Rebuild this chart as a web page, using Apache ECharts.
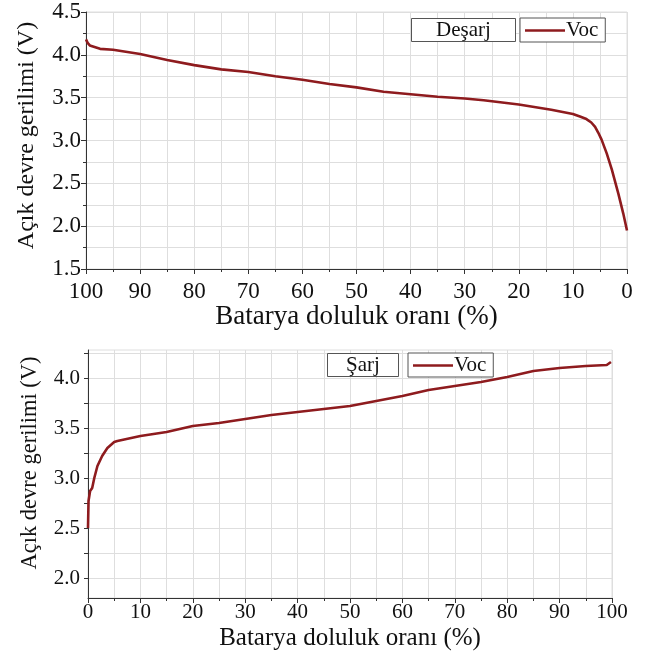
<!DOCTYPE html>
<html>
<head>
<meta charset="utf-8">
<script src="https://cdn.jsdelivr.net/npm/echarts@6/dist/echarts.min.js"></script>
<style>
html,body{margin:0;padding:0;background:#fff;}
#c{width:650px;height:663px;}
</style>
</head>
<body>
<div id="c"></div>
<script>
// Discharge (Deşarj): state of charge (%) and open-circuit voltage (V)
const dischargeSoc = [100, 99.7, 99.3, 97.4, 95, 90, 85, 80, 75, 70, 65, 60, 55, 50, 45, 40, 35, 30, 26.5, 20, 14, 10, 8.7, 7.5, 6.6, 5.9, 5.3, 4.7, 3.75, 2.8, 1.6, 0.7, 0];
const dischargeVoc = [4.18, 4.14, 4.11, 4.07, 4.06, 4.01, 3.94, 3.88, 3.83, 3.80, 3.75, 3.71, 3.66, 3.62, 3.57, 3.54, 3.51, 3.49, 3.47, 3.42, 3.36, 3.31, 3.28, 3.25, 3.21, 3.16, 3.09, 3.01, 2.85, 2.66, 2.38, 2.15, 1.95];
// Charge (Şarj)
const chargeSoc = [0, 0.1, 0.4, 0.8, 1.2, 1.8, 2.7, 3.7, 5.0, 5.6, 10, 15, 20, 25, 30, 35, 40, 45, 50, 55, 60, 65, 70, 75, 80, 85, 90, 95, 99, 99.8];
const chargeVoc = [2.50, 2.77, 2.87, 2.90, 3.00, 3.12, 3.22, 3.30, 3.36, 3.37, 3.42, 3.46, 3.52, 3.55, 3.59, 3.63, 3.66, 3.69, 3.72, 3.77, 3.82, 3.88, 3.92, 3.96, 4.01, 4.07, 4.10, 4.12, 4.13, 4.16];
// Tick labels
const topYLabels = [1.5, 2.0, 2.5, 3.0, 3.5, 4.0, 4.5];
const bottomYLabels = [2.0, 2.5, 3.0, 3.5, 4.0];
const bottomYTicks = [2.0, 2.25, 2.5, 2.75, 3.0, 3.25, 3.5, 3.75, 4.0, 4.25];
const xLabels = [0, 10, 20, 30, 40, 50, 60, 70, 80, 90, 100];

const FONT = "'Liberation Serif', 'Times New Roman', serif";
const AX = '#333';
const GRIDC = '#dedede';
const RED = '#8e1b1e';

const pair = (xs, ys) => xs.map((x, i) => [x, ys[i]]);

function xAxisCfg(gi, inverse, labelSize, nameSize, labelMargin, nameGap) {
  return {
    type: 'value', gridIndex: gi, inverse: inverse, min: 0, max: 100, interval: 10,
    name: 'Batarya doluluk oranı (%)', nameLocation: 'middle', nameGap: nameGap,
    nameTextStyle: {fontFamily: FONT, fontSize: nameSize, color: '#111'},
    axisLine: {show: true, onZero: false, lineStyle: {color: AX, width: 1}},
    axisTick: {show: true, length: 5, lineStyle: {color: AX}},
    minorTick: {show: true, splitNumber: 2, length: 3, lineStyle: {color: AX}},
    axisLabel: {fontFamily: FONT, fontSize: labelSize, color: '#111', margin: labelMargin,
      formatter: v => xLabels.indexOf(v) >= 0 ? String(v) : ''},
    splitLine: {show: true, lineStyle: {color: GRIDC, width: 1}},
    minorSplitLine: {show: true, lineStyle: {color: GRIDC, width: 1}}
  };
}

function legendCfg(left, top) {
  return {data: [{name: 'Voc', icon: 'rect'}], left: left, top: top, padding: [2, 7, 1, 5],
    itemWidth: 40, itemHeight: 2.5, itemGap: 0,
    borderWidth: 1, borderColor: '#555', backgroundColor: '#fff', selectedMode: false,
    textStyle: {fontFamily: FONT, fontSize: 21, color: '#111', padding: [0, 0, 0, -4]}};
}

const chart = echarts.init(document.getElementById('c'), null, {renderer: 'canvas'});
chart.setOption({
  backgroundColor: '#fff',
  animation: false,
  title: [
    {text: 'Deşarj', left: 411, top: 18, padding: [2, 25, 1, 25], borderWidth: 1, borderColor: '#555', backgroundColor: '#fff',
     textStyle: {fontFamily: FONT, fontSize: 21, fontWeight: 'normal', color: '#111'}},
    {text: 'Şarj', left: 327, top: 353, padding: [2, 19, 1, 19], borderWidth: 1, borderColor: '#555', backgroundColor: '#fff',
     textStyle: {fontFamily: FONT, fontSize: 21, fontWeight: 'normal', color: '#111'}}
  ],
  legend: [legendCfg(520, 18), legendCfg(408, 353)],
  grid: [
    {left: 86, top: 12, width: 541, height: 257, show: true, borderColor: GRIDC, borderWidth: 1, containLabel: false},
    {left: 88, top: 350, width: 524, height: 248, show: true, borderColor: GRIDC, borderWidth: 1, containLabel: false}
  ],
  xAxis: [
    xAxisCfg(0, true, 23, 27, 11, 31),
    xAxisCfg(1, false, 21, 25, 4, 28)
  ],
  yAxis: [
    {type: 'value', gridIndex: 0, min: 1.5, max: 4.5, interval: 0.5,
     name: 'Açık devre gerilimi (V)', nameLocation: 'middle', nameGap: 47,
     nameTextStyle: {fontFamily: FONT, fontSize: 24, color: '#111', padding: [0, 0, 0, 10]},
     axisLine: {show: true, onZero: false, lineStyle: {color: AX, width: 1}},
     axisTick: {show: true, length: 5, lineStyle: {color: AX}},
     minorTick: {show: true, splitNumber: 2, length: 3, lineStyle: {color: AX}},
     axisLabel: {fontFamily: FONT, fontSize: 23, color: '#111', margin: 5,
       formatter: v => topYLabels.indexOf(v) >= 0 ? v.toFixed(1) : ''},
     splitLine: {show: true, lineStyle: {color: GRIDC, width: 1}},
     minorSplitLine: {show: true, lineStyle: {color: GRIDC, width: 1}}},
    {type: 'value', gridIndex: 1, min: 1.8, max: 4.28,
     name: 'Açık devre gerilimi (V)', nameLocation: 'middle', nameGap: 46,
     nameTextStyle: {fontFamily: FONT, fontSize: 22.5, color: '#111', padding: [0, 0, 0, 22]},
     axisLine: {show: true, onZero: false, lineStyle: {color: AX, width: 1}},
     axisTick: {show: true, length: 4, customValues: bottomYTicks, lineStyle: {color: AX}},
     axisLabel: {fontFamily: FONT, fontSize: 21, color: '#111', margin: 8, customValues: bottomYLabels,
       formatter: v => v.toFixed(1)},
     splitLine: {show: true, lineStyle: {color: GRIDC, width: 1}}}
  ],
  series: [
    {name: 'Voc', type: 'line', xAxisIndex: 0, yAxisIndex: 0, data: pair(dischargeSoc, dischargeVoc),
     showSymbol: false, symbol: 'none', smooth: false, lineStyle: {color: RED, width: 2.6}, itemStyle: {color: RED}},
    {name: 'Voc', type: 'line', xAxisIndex: 1, yAxisIndex: 1, data: pair(chargeSoc, chargeVoc),
     showSymbol: false, symbol: 'none', smooth: false, lineStyle: {color: RED, width: 2.6}, itemStyle: {color: RED}}
  ]
});
</script>
</body>
</html>
